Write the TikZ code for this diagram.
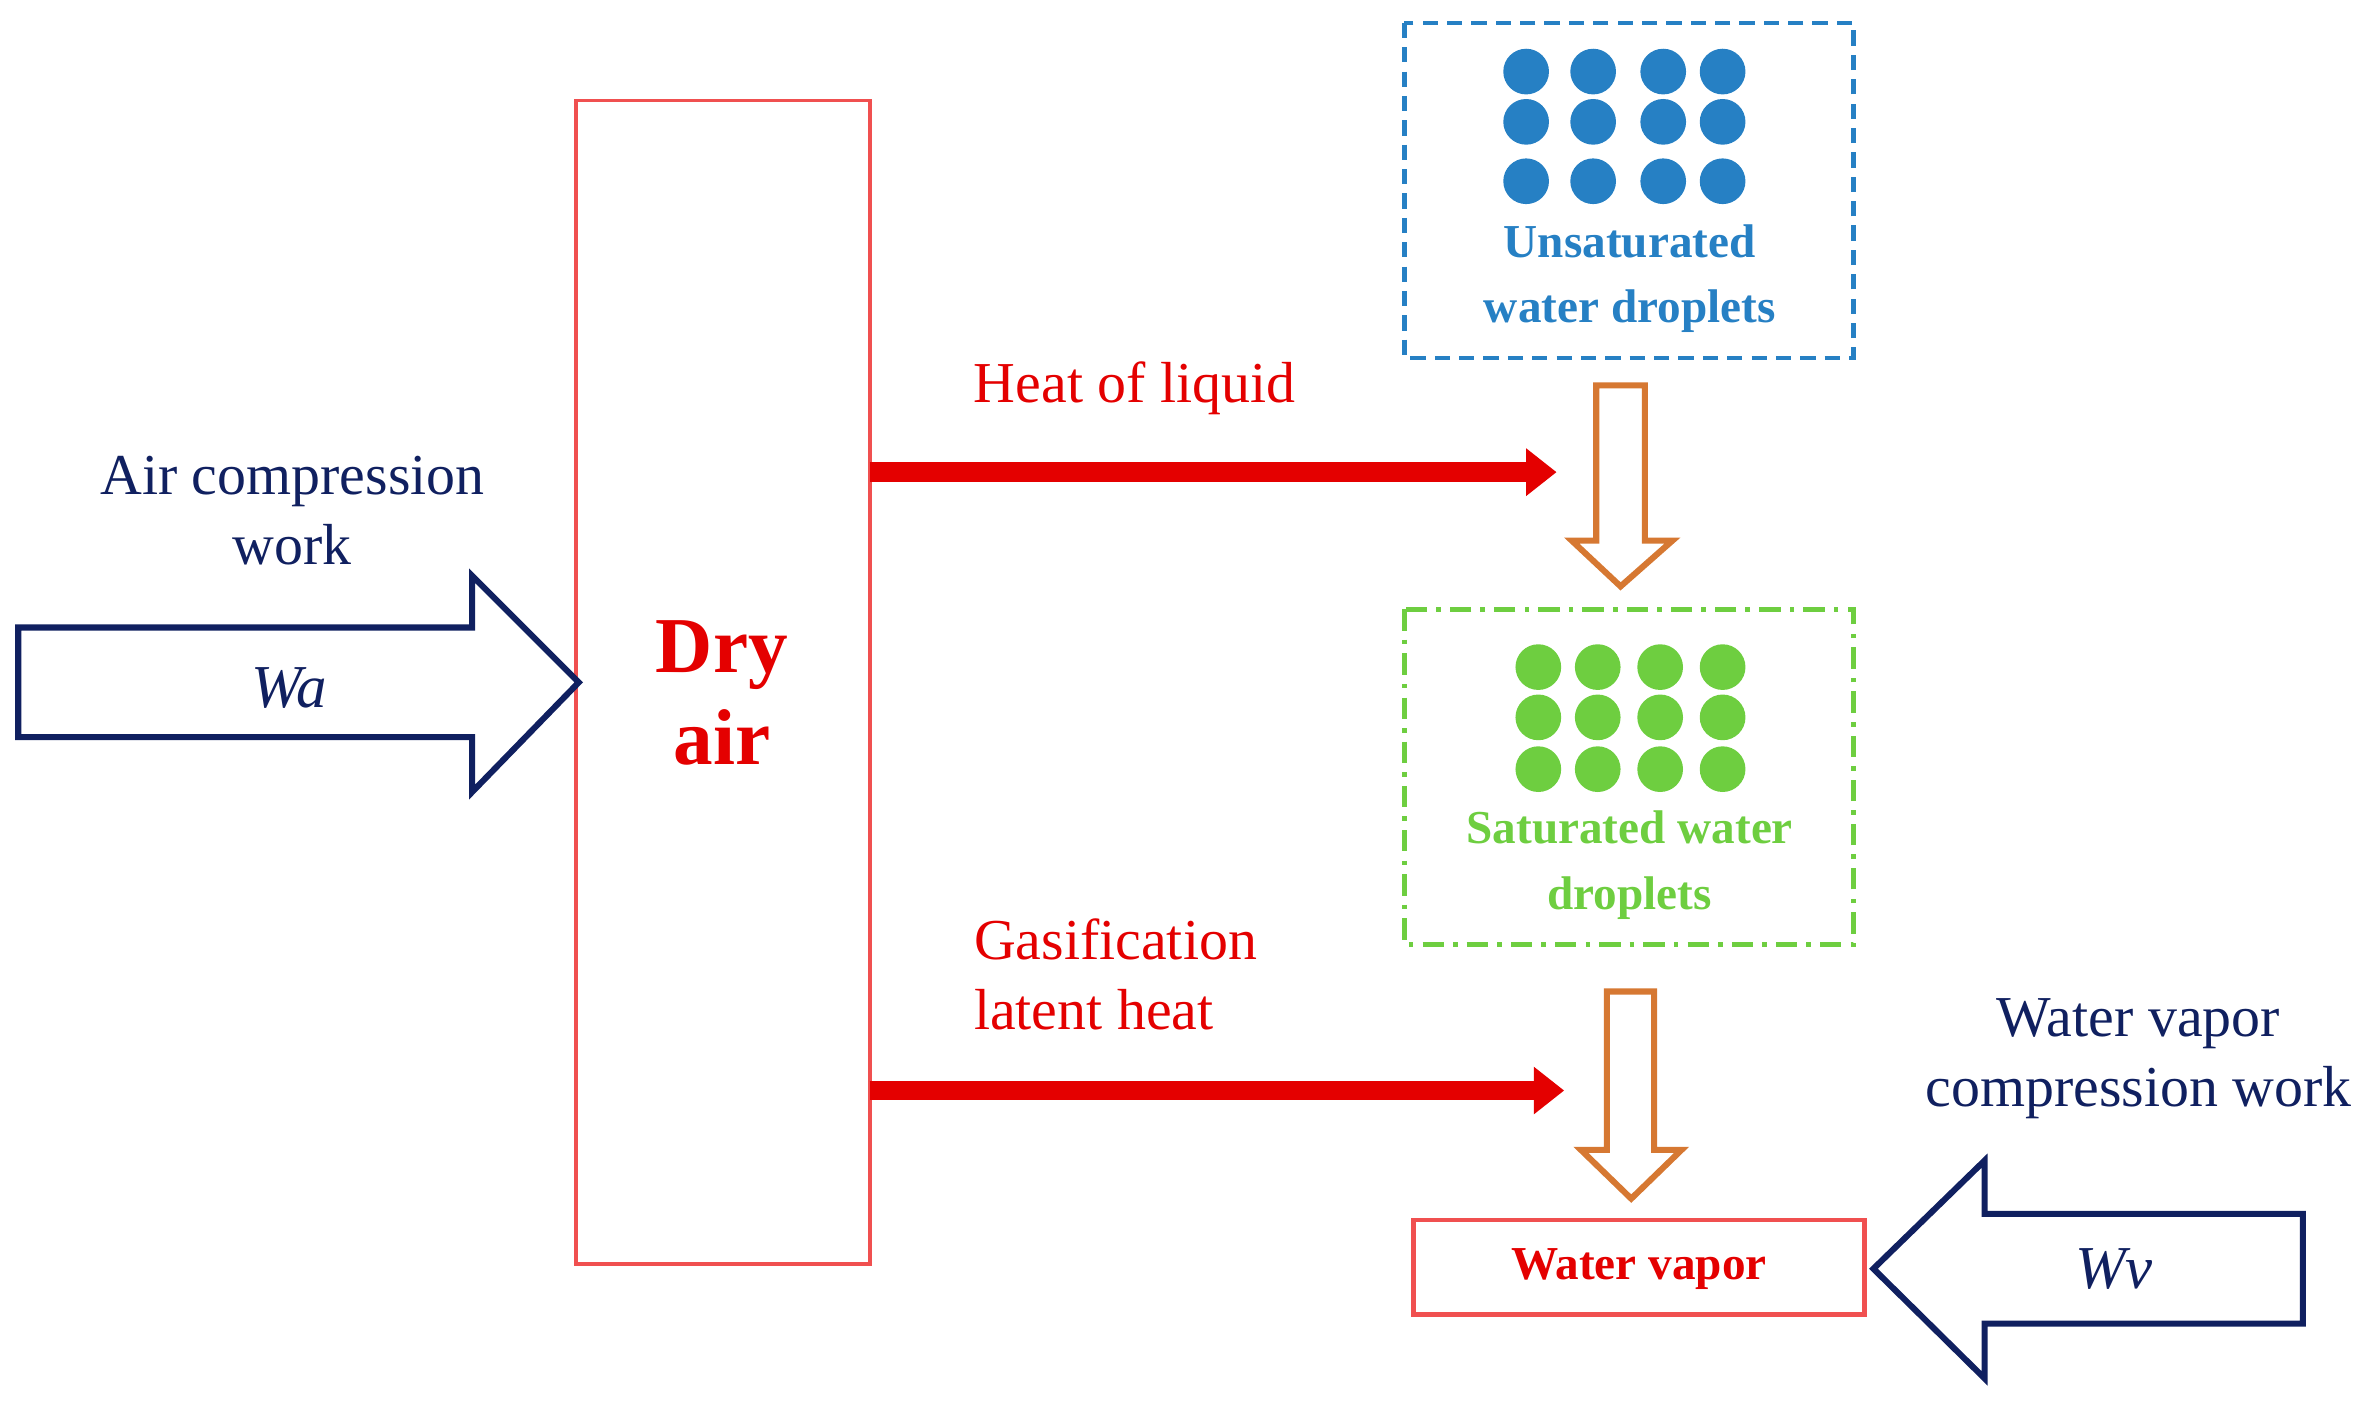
\documentclass[tikz,border=0pt]{standalone}
\usepackage{fontspec}
\setmainfont{Liberation Serif}
\begin{document}
\begin{tikzpicture}[x=1pt,y=-1pt,
  navy/.style={draw={rgb,255:red,16;green,32;blue,96},line width=4pt,line join=miter},
  orng/.style={draw={rgb,255:red,214;green,120;blue,50},line width=4pt,fill=white},
  heat/.style={draw={rgb,255:red,228;green,0;blue,0},line width=13pt,-{Triangle[length=20pt,width=30pt]}},
  lbl/.style={font=\fontsize{38}{46}\selectfont,align=center},
  dotb/.style={fill={rgb,255:red,38;green,128;blue,196}},
  dotg/.style={fill={rgb,255:red,110;green,206;blue,64}}]
\usetikzlibrary{arrows.meta}
\useasboundingbox (0,0) rectangle (1560,920);
\definecolor{rd}{RGB}{228,0,0}
\definecolor{nv}{RGB}{16,32,96}
\definecolor{bl}{RGB}{38,128,196}
\definecolor{gr}{RGB}{110,206,64}
% dry air
\draw[draw={rgb,255:red,240;green,80;blue,80},line width=2.5pt] (378,66) rectangle (571,830);
\node[font=\bfseries\fontsize{52}{60}\selectfont,text=rd,align=center] (dry) at (474,455) {Dry\\air};
% left arrow
\draw[navy] (12,412)--(310,412)--(310,378)--(380,448)--(310,520)--(310,484)--(12,484)--cycle;
\node[font=\itshape\fontsize{40}{46}\selectfont,text=nv] (wa) at (190,452) {Wa};
\node[lbl,text=nv] (acw) at (192,335) {Air compression\\work};
% heat arrows
\coordinate (h1s) at (571,310); \coordinate (h1e) at (1022,310);
\draw[heat] (h1s)--(h1e);
\node[lbl,text=rd] (hl) at (745,255) {Heat of liquid};
\coordinate (h2s) at (571,716); \coordinate (h2e) at (1027,716);
\draw[heat] (h2s)--(h2e);
\node[lbl,text=rd,align=left,anchor=west] (gl) at (636,640) {Gasification\\latent heat};
% unsaturated box
\draw[draw=bl,line width=3pt,dash pattern=on 10pt off 6pt] (922,15) rectangle (1217,235);
\foreach \x in {1002,1046,1092,1131}\foreach \y in {47,80,119}\fill[dotb] (\x,\y) circle (15);
\node[font=\bfseries\fontsize{31}{43}\selectfont,text=bl,align=center] (ud) at (1070,183) {Unsaturated\\water droplets};
% orange arrow 1
\draw[orng] (1048,253)--(1080,253)--(1080,355)--(1098,355)--(1064,385)--(1032,355)--(1048,355)--cycle;
% saturated box
\draw[draw=gr,line width=3pt,dash pattern=on 14pt off 6pt on 3pt off 6pt] (922,400) rectangle (1217,620);
\foreach \x in {1010,1049,1090,1131}\foreach \y in {438,471,505}\fill[dotg] (\x,\y) circle (15);
\node[font=\bfseries\fontsize{31}{43}\selectfont,text=gr,align=center] (sd) at (1070,568) {Saturated water\\droplets};
% orange arrow 2
\draw[orng] (1055,651)--(1086,651)--(1086,755)--(1104,755)--(1071,787)--(1038,755)--(1055,755)--cycle;
% water vapor
\draw[draw={rgb,255:red,240;green,80;blue,80},line width=3pt] (928,801) rectangle (1224,863);
\node[font=\bfseries\fontsize{31}{36}\selectfont,text=rd] (wv) at (1076,833) {Water vapor};
% right arrow
\draw[navy] (1230,833)--(1303,762)--(1303,797)--(1512,797)--(1512,869)--(1303,869)--(1303,905)--cycle;
\node[font=\itshape\fontsize{40}{46}\selectfont,text=nv] (wvv) at (1388,833) {Wv};
\node[lbl,text=nv] (vcw) at (1404,695) {Water vapor\\compression work};
\end{tikzpicture}
\end{document}
